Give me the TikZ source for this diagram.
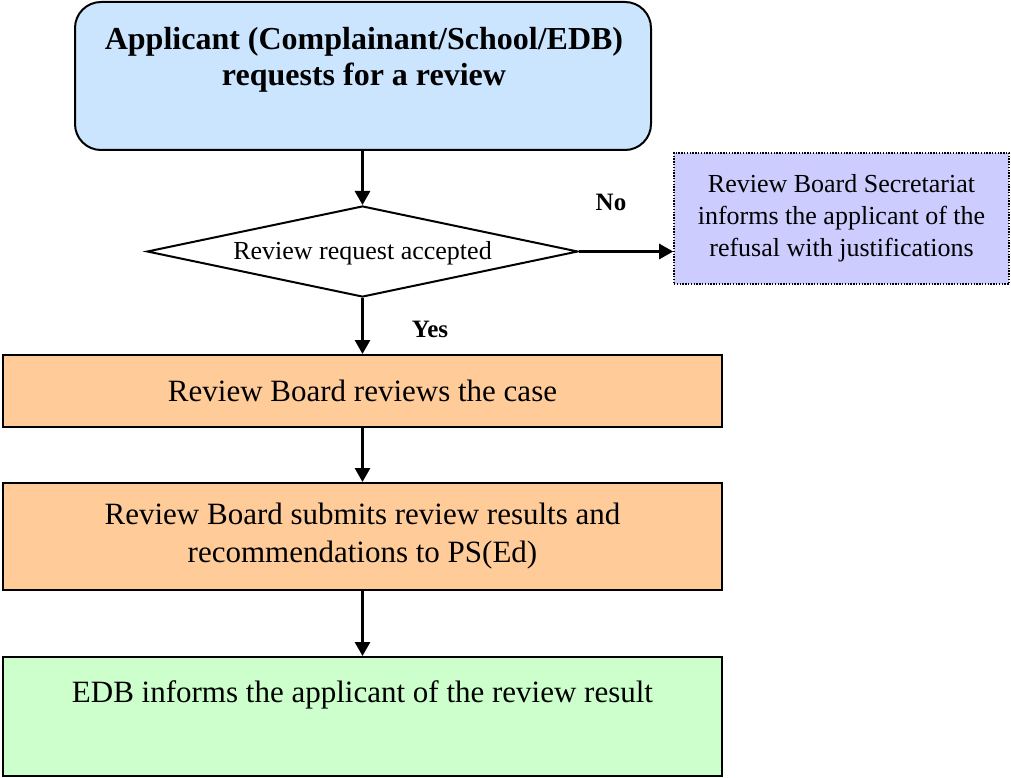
\documentclass[tikz,border=0pt]{standalone}
\usepackage{fontspec}
\setmainfont{Liberation Serif}
\usetikzlibrary{shapes.geometric,arrows.meta}
\definecolor{titleblue}{RGB}{204,229,255}
\definecolor{lav}{RGB}{204,204,255}
\definecolor{peach}{RGB}{255,204,153}
\definecolor{mint}{RGB}{204,255,204}
\begin{document}
\begin{tikzpicture}[x=1pt,y=-1pt,
  box/.style={draw, line width=2pt, inner sep=0pt},
  arr/.style={-{Triangle[length=14pt,width=15pt]}, line width=2.8pt},
  bigtext/.style={font=\fontsize{31}{38}\selectfont, align=center},
  midtext/.style={font=\fontsize{26}{32}\selectfont, align=center},
  boldlab/.style={font=\bfseries\fontsize{25}{30}\selectfont, inner sep=0pt, anchor=base}
]
\useasboundingbox (0,0) rectangle (1011,778);

% top rounded box
\node[box, fill=titleblue, rounded corners=26pt, minimum width=576pt, minimum height=148pt] (top) at (363,76) {};
\node[font=\bfseries\fontsize{32}{36}\selectfont, align=center, inner sep=0pt] (toptext) at (364,60)
  {Applicant (Complainant/School/EDB)\\requests for a review};

% decision diamond
\node[box, diamond, aspect=4.736, minimum width=431pt, minimum height=91pt, fill=white,
      font=\fontsize{26}{32}\selectfont, text height=18pt, text depth=2pt] (dia) at (362.5,251.5) {Review request accepted};

% refusal box
\node[draw, line width=1.6pt, dash pattern=on 1.4pt off 1.4pt, fill=lav, inner sep=0pt,
      minimum width=335pt, minimum height=131pt, midtext] (ref) at (841.5,218.5)
  {Review Board Secretariat\\informs the applicant of the\\refusal with justifications};

% process boxes
\node[box, fill=peach, minimum width=719pt, minimum height=72pt, bigtext] (rev) at (362.5,391)
  {Review Board reviews the case};
\node[box, fill=peach, minimum width=719pt, minimum height=107pt, bigtext] (sub) at (362.5,536.5)
  {Review Board submits review results and\\recommendations to PS(Ed)};
\node[box, fill=mint, minimum width=719pt, minimum height=119pt, bigtext,
      text height=22pt, text depth=51pt] (inf) at (362.5,716.5)
  {EDB informs the applicant of the review result};

% connectors
\draw[arr] (top.south -| dia.north) -- (dia.north);
\draw[arr] (dia.east) -- (ref.west |- dia.east);
\draw[arr] (dia.south) -- (rev.north);
\draw[arr] (rev.south) -- (sub.north);
\draw[arr] (sub.south) -- (inf.north);

% branch labels
\node[boldlab] (no) at (611,210) {No};
\node[boldlab] (yes) at (430,337) {Yes};
\end{tikzpicture}
\end{document}
